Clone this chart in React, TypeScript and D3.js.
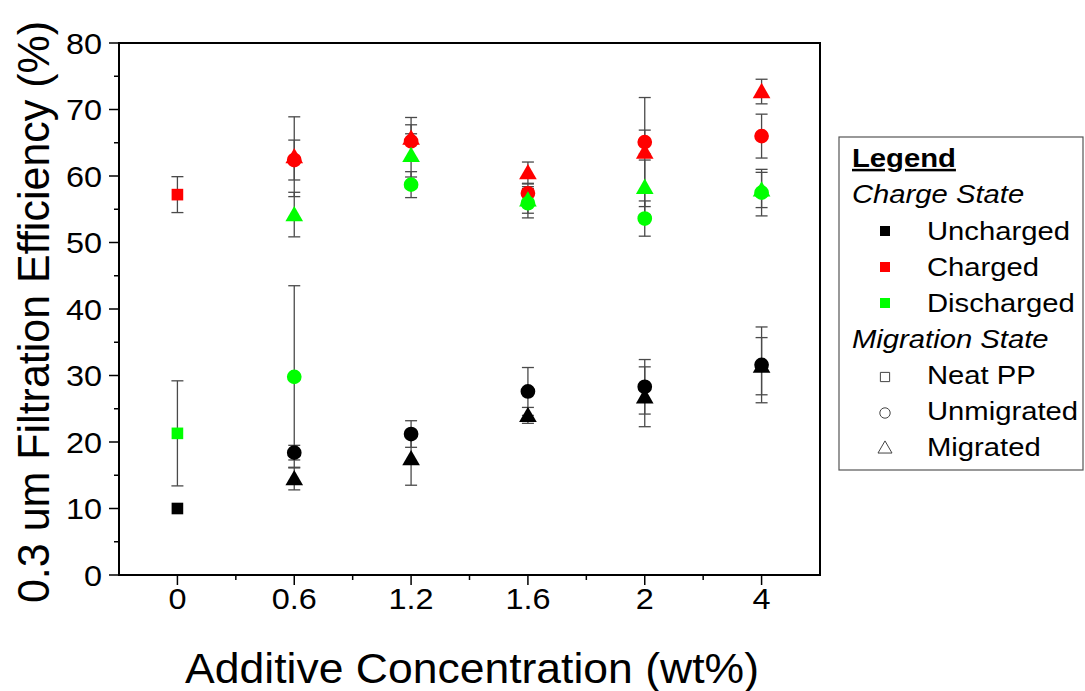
import React from "react";
import * as d3 from "d3";

const categories = ["0", "0.6", "1.2", "1.6", "2", "4"];
const yTicks = [0, 10, 20, 30, 40, 50, 60, 70, 80];

type Series = {
  charge: string;
  shape: string;
  values: (number | null)[];
  errors: (number | null)[];
};

const unchargedNeat = [10.0, null, null, null, null, null];
const unchargedNeatErr = [0, null, null, null, null, null];
const chargedNeat = [57.2, null, null, null, null, null];
const chargedNeatErr = [2.7, null, null, null, null, null];
const dischargedNeat = [21.3, null, null, null, null, null];
const dischargedNeatErr = [7.9, null, null, null, null, null];

const unchargedUnmig = [null, 18.4, 21.2, 27.6, 28.3, 31.6];
const unchargedUnmigErr = [null, 1.1, 2.0, 3.6, 4.1, 5.7];
const unchargedMig = [null, 14.5, 17.5, 24.0, 26.8, 31.4];
const unchargedMigErr = [null, 1.7, 4.0, 1.2, 4.5, 4.3];

const chargedUnmig = [null, 62.4, 65.2, 57.4, 65.1, 66.0];
const chargedUnmigErr = [null, 3.0, 2.5, 1.4, 1.8, 3.3];
const chargedMig = [null, 62.9, 65.7, 60.5, 63.6, 72.7];
const chargedMigErr = [null, 6.0, 3.1, 1.6, 8.2, 1.85];

const dischargedUnmig = [null, 29.8, 58.7, 55.9, 53.6, 57.5];
const dischargedUnmigErr = [null, 13.7, 1.95, 2.2, 2.65, 3.5];
const dischargedMig = [null, 54.2, 63.1, 56.4, 58.3, 57.9];
const dischargedMigErr = [null, 3.35, 3.25, 2.0, 4.1, 2.65];

const series: Series[] = [
  { charge: "Uncharged", shape: "square", values: unchargedNeat, errors: unchargedNeatErr },
  { charge: "Uncharged", shape: "circle", values: unchargedUnmig, errors: unchargedUnmigErr },
  { charge: "Uncharged", shape: "triangle", values: unchargedMig, errors: unchargedMigErr },
  { charge: "Charged", shape: "square", values: chargedNeat, errors: chargedNeatErr },
  { charge: "Charged", shape: "circle", values: chargedUnmig, errors: chargedUnmigErr },
  { charge: "Charged", shape: "triangle", values: chargedMig, errors: chargedMigErr },
  { charge: "Discharged", shape: "square", values: dischargedNeat, errors: dischargedNeatErr },
  { charge: "Discharged", shape: "circle", values: dischargedUnmig, errors: dischargedUnmigErr },
  { charge: "Discharged", shape: "triangle", values: dischargedMig, errors: dischargedMigErr },
];

const chargeColors: Record<string, string> = {
  Uncharged: "#000000",
  Charged: "#ff0000",
  Discharged: "#00ff00",
};

const chargeLabels = ["Uncharged", "Charged", "Discharged"];
const migrationLabels = ["Neat PP", "Unmigrated", "Migrated"];
const migrationShapes = ["square", "circle", "triangle"];

const W = 1085;
const H = 691;
const L = 119, R = 820, T = 43, B = 575;

const x = d3.scaleLinear().domain([-0.5, categories.length - 0.5]).range([L, R]);
const y = d3.scaleLinear().domain([0, 80]).range([B, T]);

const symbolPath = (shape: string, area: number) => {
  const t = shape === "square" ? d3.symbolSquare : shape === "circle" ? d3.symbolCircle : d3.symbolTriangle;
  return d3.symbol().type(t).size(area)() as string;
};

const markerArea: Record<string, number> = { square: 135, circle: 170, triangle: 135 };

const TICK_SX = 1.08;
const LEG_SX = 1.17;

export default function App() {
  const font = "'Liberation Sans', Arial, sans-serif";
  const minorY = d3.range(5, 80, 10);
  const minorX = d3.range(0, categories.length - 1).map((i) => i + 0.5);
  const legY = (i: number) => 240 + i * 36;
  const migY = (i: number) => 384 + i * 36;
  return (
    <svg width={W} height={H} style={{ position: "absolute", left: 0, top: 0, background: "#fff" }} fontFamily={font}>
      <rect x={0} y={0} width={W} height={H} fill="#fff" />
      {/* error bars */}
      {series.map((s, si) =>
        s.values.map((v, i) => {
          const e = s.errors[i];
          if (v == null || e == null || e === 0) return null;
          const cx = x(i);
          return (
            <g key={`e${si}-${i}`} stroke="#4a4a4a" strokeWidth={1.3}>
              <line x1={cx} x2={cx} y1={y(v + e)} y2={y(v - e)} />
              <line x1={cx - 6} x2={cx + 6} y1={y(v + e)} y2={y(v + e)} />
              <line x1={cx - 6} x2={cx + 6} y1={y(v - e)} y2={y(v - e)} />
            </g>
          );
        })
      )}
      {/* markers */}
      {series.map((s, si) =>
        s.values.map((v, i) => {
          if (v == null) return null;
          const dy = s.shape === "triangle" ? 1.5 : 0;
          return (
            <path
              key={`m${si}-${i}`}
              d={symbolPath(s.shape, markerArea[s.shape])}
              transform={`translate(${x(i)},${y(v) + dy})`}
              fill={chargeColors[s.charge]}
            />
          );
        })
      )}
      {/* frame */}
      <rect x={L} y={T} width={R - L} height={B - T} fill="none" stroke="#000" strokeWidth={2} />
      {/* y ticks */}
      {yTicks.map((t) => (
        <g key={`yt${t}`}>
          <line x1={L - 10} x2={L} y1={y(t)} y2={y(t)} stroke="#000" strokeWidth={1.5} />
          <text
            transform={`translate(${L - 17},${y(t)}) scale(${TICK_SX},1)`}
            dy="0.36em"
            textAnchor="end"
            fontSize={30}
          >
            {t}
          </text>
        </g>
      ))}
      {minorY.map((t) => (
        <line key={`ym${t}`} x1={L - 5} x2={L} y1={y(t)} y2={y(t)} stroke="#000" strokeWidth={1.5} />
      ))}
      {/* x ticks */}
      {categories.map((c, i) => (
        <g key={`xt${c}`}>
          <line x1={x(i)} x2={x(i)} y1={B} y2={B + 10} stroke="#000" strokeWidth={1.5} />
          <text transform={`translate(${x(i)},${B + 34}) scale(${TICK_SX},1)`} textAnchor="middle" fontSize={30}>
            {c}
          </text>
        </g>
      ))}
      {minorX.map((t) => (
        <line key={`xm${t}`} x1={x(t)} x2={x(t)} y1={B} y2={B + 5} stroke="#000" strokeWidth={1.5} />
      ))}
      {/* axis titles */}
      <text transform={`translate(472,683) scale(1.06,1)`} textAnchor="middle" fontSize={42}>
        Additive Concentration (wt%)
      </text>
      <text transform={`translate(49,312) scale(1.05,1.0) rotate(-90)`} textAnchor="middle" fontSize={43}>
        0.3 um Filtration Efficiency (%)
      </text>
      {/* legend */}
      <g>
        <rect x={839} y={137} width={244} height={333} fill="#fff" stroke="#555" strokeWidth={1.2} />
        <text
          transform={`translate(852,167) scale(${LEG_SX},1)`}
          fontSize={25}
          fontWeight="bold"
          textDecoration="underline"
        >
          Legend
        </text>
        <text transform={`translate(852,203) scale(${LEG_SX},1)`} fontSize={25} fontStyle="italic">
          Charge State
        </text>
        {chargeLabels.map((c, i) => (
          <g key={`lc${c}`}>
            <rect x={880} y={legY(i) - 14} width={10} height={10} fill={chargeColors[c]} />
            <text transform={`translate(927,${legY(i)}) scale(${LEG_SX},1)`} fontSize={25}>
              {c}
            </text>
          </g>
        ))}
        <text transform={`translate(852,348) scale(${LEG_SX},1)`} fontSize={25} fontStyle="italic">
          Migration State
        </text>
        {migrationLabels.map((m, i) => (
          <g key={`lm${m}`}>
            <path
              d={symbolPath(migrationShapes[i], 85)}
              transform={`translate(885,${migY(i) - 7})`}
              fill="none"
              stroke="#444"
              strokeWidth={1}
            />
            <text transform={`translate(927,${migY(i)}) scale(${LEG_SX},1)`} fontSize={25}>
              {m}
            </text>
          </g>
        ))}
      </g>
    </svg>
  );
}
